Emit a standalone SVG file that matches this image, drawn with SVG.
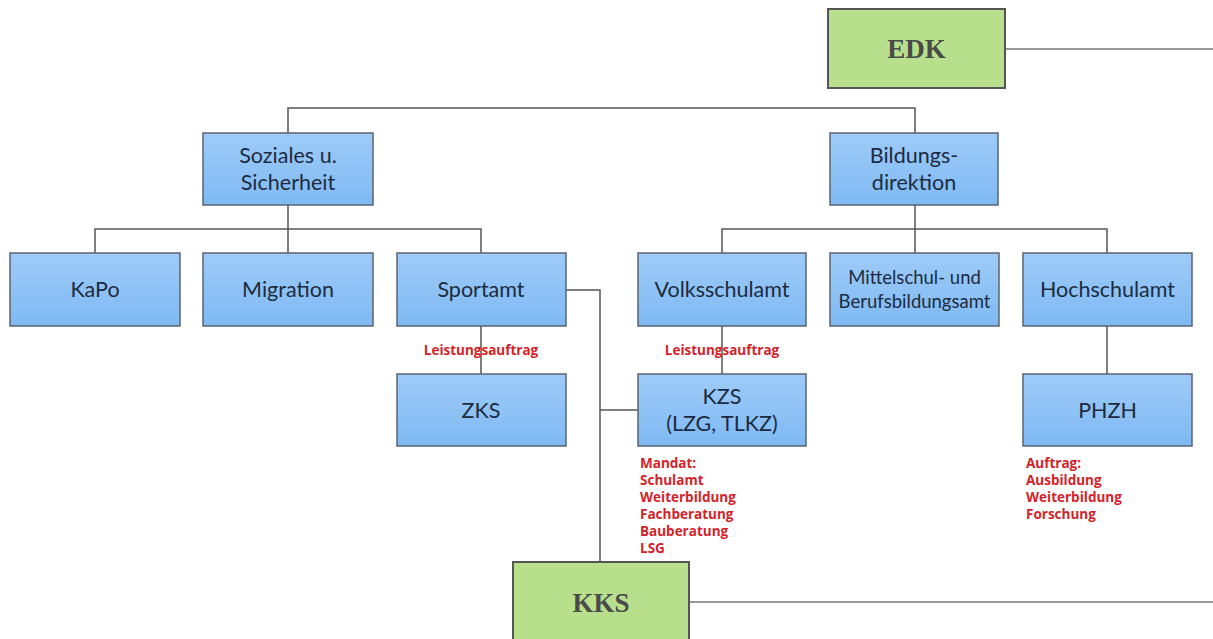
<svg xmlns="http://www.w3.org/2000/svg" width="1213" height="639" viewBox="0 0 1213 639">
<defs>
<linearGradient id="bg" x1="0" y1="0" x2="0" y2="1">
<stop offset="0" stop-color="#9ecbf8"/>
<stop offset="1" stop-color="#7fb9f3"/>
</linearGradient>
</defs>
<style>
.b{fill:url(#bg);stroke:#5b6470;stroke-width:1.5}
.g{fill:#b8df8b;stroke:#555;stroke-width:2}
.t{font-family:Lato,"Open Sans","Liberation Sans",sans-serif;font-size:21.5px;fill:#1c2b40;text-anchor:middle}
.s{font-size:18.5px}
.gt{font-family:"Liberation Serif",serif;font-weight:bold;font-size:27px;fill:#4a4a4a;text-anchor:middle}
.r{font-family:"Open Sans","Liberation Sans",sans-serif;font-weight:bold;font-size:13.5px;fill:#d2232a}
.c{fill:none;stroke:#555;stroke-width:1.5}
.cg{fill:none;stroke:#999;stroke-width:2}
</style>
<rect width="1213" height="639" fill="#fff"/>
<g id="connectors">
<path class="c" d="M288 133V108H915V133"/>
<path class="c" d="M288 205V229M95 253V229H481V253M288 229V253"/>
<path class="c" d="M915 205V229M722 253V229H1107V253M915 229V253"/>
<path class="c" d="M481 326V374"/>
<path class="c" d="M722 326V374"/>
<path class="c" d="M1107 326V374"/>
<path class="c" d="M566 290H600V562M600 410H638"/>
<path class="cg" d="M1005 49H1213"/>
<path class="cg" d="M689 602H1213"/>
</g>
<g id="edk"><rect class="g" x="828" y="9" width="177" height="79"/><text class="gt" x="916.5" y="58">EDK</text></g>
<g id="soziales"><rect class="b" x="203" y="133" width="170" height="72"/><text class="t" x="288" y="163">Soziales u.</text><text class="t" x="288" y="190">Sicherheit</text></g>
<g id="bildung"><rect class="b" x="830" y="133" width="168" height="72"/><text class="t" x="914" y="163">Bildungs-</text><text class="t" x="914" y="190">direktion</text></g>
<g id="kapo"><rect class="b" x="10" y="253" width="170" height="73"/><text class="t" x="95" y="297">KaPo</text></g>
<g id="migration"><rect class="b" x="203" y="253" width="170" height="73"/><text class="t" x="288" y="297">Migration</text></g>
<g id="sportamt"><rect class="b" x="397" y="253" width="169" height="73"/><text class="t" x="481" y="297">Sportamt</text></g>
<g id="volksschulamt"><rect class="b" x="638" y="253" width="168" height="73"/><text class="t" x="722" y="297">Volksschulamt</text></g>
<g id="mittelschulamt"><rect class="b" x="830" y="253" width="169" height="73"/><text class="t s" x="914.5" y="284">Mittelschul- und</text><text class="t s" x="914.5" y="308">Berufsbildungsamt</text></g>
<g id="hochschulamt"><rect class="b" x="1023" y="253" width="169" height="73"/><text class="t" x="1107.5" y="297">Hochschulamt</text></g>
<g id="zks"><rect class="b" x="397" y="374" width="169" height="72"/><text class="t" x="481" y="418">ZKS</text></g>
<g id="kzs"><rect class="b" x="638" y="374" width="168" height="72"/><text class="t" x="722" y="404">KZS</text><text class="t" x="722" y="431">(LZG, TLKZ)</text></g>
<g id="phzh"><rect class="b" x="1023" y="374" width="169" height="72"/><text class="t" x="1107.5" y="418">PHZH</text></g>
<g id="kks"><rect class="g" x="513" y="562" width="176" height="82"/><text class="gt" x="601" y="612">KKS</text></g>
<g id="labels">
<text class="r" x="481" y="355" text-anchor="middle">Leistungsauftrag</text>
<text class="r" x="722" y="355" text-anchor="middle">Leistungsauftrag</text>
<text class="r" x="640" y="468">Mandat:</text>
<text class="r" x="640" y="485">Schulamt</text>
<text class="r" x="640" y="502">Weiterbildung</text>
<text class="r" x="640" y="519">Fachberatung</text>
<text class="r" x="640" y="536">Bauberatung</text>
<text class="r" x="640" y="553">LSG</text>
<text class="r" x="1026" y="468">Auftrag:</text>
<text class="r" x="1026" y="485">Ausbildung</text>
<text class="r" x="1026" y="502">Weiterbildung</text>
<text class="r" x="1026" y="519">Forschung</text>
</g>
</svg>
